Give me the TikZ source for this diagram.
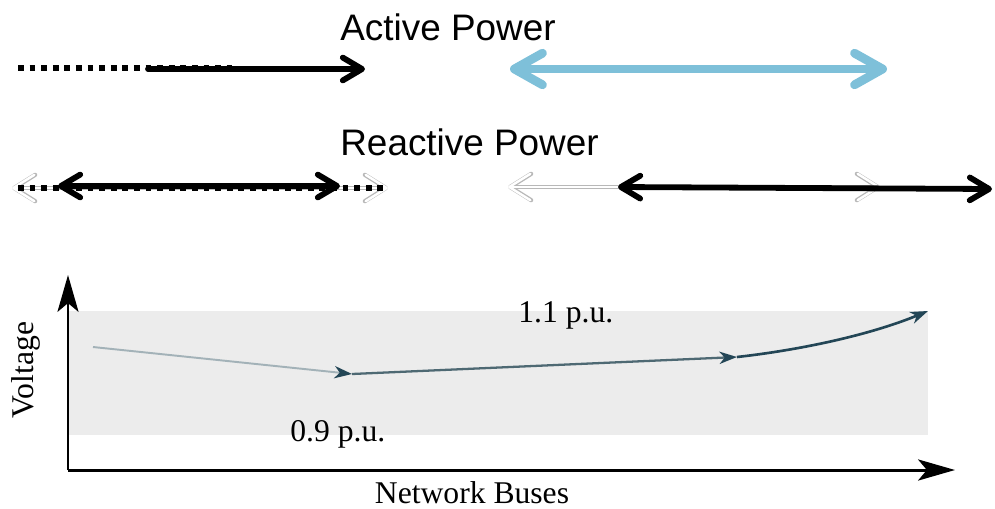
\documentclass[tikz,border=0pt]{standalone}
\usepackage{fontspec}
\setmainfont{Liberation Serif}
\setsansfont{Liberation Sans}
\usepackage{tikz}
\usetikzlibrary{arrows.meta,positioning,calc}
\definecolor{powerblue}{HTML}{7EC0D9}
\definecolor{curvedark}{HTML}{234656}
\definecolor{curvemid}{HTML}{4E6973}
\definecolor{curvelight}{HTML}{A3B2B8}
\definecolor{bandgray}{HTML}{ECECEC}
\tikzset{
  barb/.tip={Straight Barb[length=11pt,width=13pt,round]},
  bluebarb/.tip={Straight Barb[length=16pt,width=18pt,round]},
  ghostbarb/.tip={Straight Barb[length=12pt,width=15pt,round]},
  axistip/.tip={Stealth[length=21pt,width=12pt,inset=5pt]},
  curvetip/.tip={Stealth[length=10pt,width=7pt,inset=3pt,color=curvedark]},
  powerlabel/.style={font=\sffamily\fontsize{21}{25}\selectfont,anchor=base west,inner sep=0pt},
  plotlabel/.style={font=\fontsize{18}{21}\selectfont,inner sep=0pt},
  dotline/.style={line width=2.9pt,dash pattern=on 3.3pt off 3.3pt},
  powerarrow/.style={line width=3.3pt,line cap=round},
  bluearrow/.style={draw=powerblue,line width=5pt,line cap=round},
  ghostouter/.style={draw=black!28,line width=2.4pt,line cap=round},
  ghostinner/.style={draw=white,line width=1.4pt,line cap=round},
  axisline/.style={line width=1.3pt}
}
\begin{document}
\begin{tikzpicture}[x=0.02cm,y=-0.02cm]
  \useasboundingbox (0,0) rectangle (995,508);
  % active power
  \node[powerlabel] (active) at (340,40) {Active Power};
  \coordinate (apdotA) at (18,68);
  \coordinate (apdotB) at (232,68);
  \coordinate (apA) at (148,69);
  \coordinate (apB) at (365,69);
  \coordinate (apblueA) at (510,69);
  \coordinate (apblueB) at (887,69);
  \draw[dotline] (apdotA) -- (apdotB);
  \draw[powerarrow,-barb] (apA) -- (apB);
  \draw[bluearrow,bluebarb-bluebarb] (apblueA) -- (apblueB);
  % reactive power
  \node[powerlabel] (reactive) at (340,155) {Reactive Power};
  \coordinate (rpghostA) at (12,188);
  \coordinate (rpghostB) at (388,188);
  \coordinate (rpdotA) at (18,188);
  \coordinate (rpdotB) at (386,188);
  \coordinate (rpA) at (58,186);
  \coordinate (rpB) at (340,186);
  \coordinate (rqghostA) at (508,187);
  \coordinate (rqghostB) at (880,187);
  \coordinate (rqA) at (618,187);
  \coordinate (rqB) at (992,189);
  \draw[ghostouter,ghostbarb-ghostbarb] (rpghostA) -- (rpghostB);
  \draw[ghostinner,ghostbarb-ghostbarb] (rpghostA) -- (rpghostB);
  \draw[dotline] (rpdotA) -- (rpdotB);
  \draw[powerarrow,barb-barb] (rpA) -- (rpB);
  \draw[ghostouter,ghostbarb-ghostbarb] (rqghostA) -- (rqghostB);
  \draw[ghostinner,ghostbarb-ghostbarb] (rqghostA) -- (rqghostB);
  \draw[powerarrow,barb-barb] (rqA) -- (rqB);
  % voltage profile
  \fill[bandgray] (68,311) rectangle (928,435);
  \coordinate (origin) at (68,470);
  \coordinate (ytop) at (68,275);
  \coordinate (xend) at (955,470);
  \draw[axisline,-axistip] (origin) -- (ytop);
  \draw[axisline,line width=1.7pt,-axistip] (origin) -- (xend);
  \node[plotlabel,rotate=90] (voltage) at (26,370) {Voltage};
  \node[plotlabel,anchor=base] (buses) at (472,503) {Network Buses};
  \node[plotlabel,anchor=base west] (upper) at (518,322) {1.1 p.u.};
  \node[plotlabel,anchor=base west] (lower) at (290,441) {0.9 p.u.};
  \coordinate (busA) at (93,347);
  \coordinate (busB) at (352,374);
  \coordinate (busC) at (737,357);
  \coordinate (busD) at (928,311);
  \draw[curvelight,line width=1.1pt,-curvetip] (busA) -- (busB);
  \draw[curvemid,line width=1.3pt,-curvetip] (busB) -- (busC);
  \draw[curvedark,line width=1.5pt,-curvetip] (busC) .. controls (800,350) and (870,335) .. (busD);
\end{tikzpicture}
\end{document}
